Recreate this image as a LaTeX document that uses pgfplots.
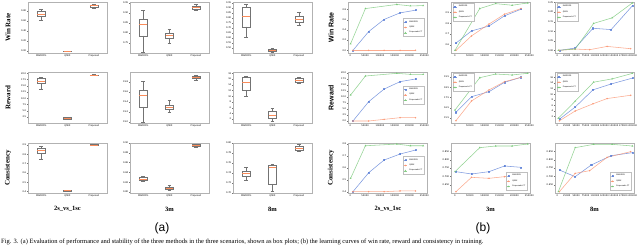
\documentclass[border=0pt]{standalone}
\usepackage{fontspec}
\setmainfont{Liberation Serif}
\newfontfamily\dv{DejaVu Sans}
\newfontfamily\ls{Liberation Sans}
\usepackage{pgfplots}
\pgfplotsset{compat=1.18}
\usepgfplotslibrary{statistics}
\definecolor{cblue}{RGB}{95,130,215}
\definecolor{corange}{RGB}{250,150,115}
\definecolor{cgreen}{RGB}{120,200,120}
\definecolor{mplorange}{RGB}{250,140,90}
\newcommand\tk{\dv\fontsize{2.3}{2.7}\selectfont}
\newcommand\lgf{\dv\fontsize{1.9}{2.0}\selectfont}
\newcommand\bx[6]{\addplot[boxplot prepared={draw position=#1, lower whisker=#2, lower quartile=#3, median=#4, upper quartile=#5, upper whisker=#6}, draw=black!55, line width=0.25pt] coordinates {};}
\pgfplotsset{
 cm/.style={scale only axis, anchor=north west, width=79pt, height=51pt,
  axis line style={draw=black!30, line width=0.35pt},
  tick style={draw=black!55, line width=0.25pt}, tick align=outside, major tick length=1pt,
  xtick pos=bottom, ytick pos=left, ticklabel style={font=\tk, inner sep=0.6pt},
  /pgf/number format/assume math mode=true, scaled ticks=false},
 yp/.style={yticklabel style={/pgf/number format/.cd, fixed, fixed zerofill, precision=#1}},
 aa/.style={cm, xmin=0.5, xmax=3.5, xtick={1,2,3}, xticklabels={MADDPG,QMIX,Proposed},
  boxplot/draw direction=y,
  boxplot/box extend=0.3, boxplot/whisker extend=0.15,
  boxplot/every median/.style={draw=mplorange, line width=0.3pt}},
 bb/.style={cm, xticklabel style={/pgf/number format/.cd, fixed, 1000 sep={}},
  legend style={font=\lgf, draw=black!25, line width=0.2pt, inner sep=0.3pt, row sep=-1.6pt, fill=white, cells={anchor=west}},
  legend image code/.code={\draw[mark repeat=2,mark phase=2,##1] plot coordinates {(0pt,0pt) (1.7pt,0pt) (3.4pt,0pt)};}},
 b1/.style={bb, xmin=-7778, xmax=258889, xtick={0,50000,...,250000}},
 b2/.style={bb, xmin=-13333, xmax=252222, xtick={0,50000,...,250000}},
 b3/.style={bb, xmin=-6250, xmax=203571, xtick={0,25000,...,200000}},
 blu/.style={color=cblue, line width=0.55pt, mark=square*, mark size=0.55pt, opacity=0.8},
 org/.style={color=corange, line width=0.55pt, mark=*, mark size=0.5pt, opacity=0.8},
 grn/.style={color=cgreen, line width=0.55pt, mark=triangle*, mark size=0.6pt, opacity=0.8},
}
\begin{document}
\begin{tikzpicture}
\useasboundingbox (0,0) rectangle (640pt,-245pt);
% ================= (a) box plots =================
\begin{axis}[aa, at={(28pt,-2pt)}, ymin=-0.04, ymax=0.98, ytick={0,0.2,0.4,0.6,0.8}, yp=2]
\bx{1}{0.62}{0.70}{0.74}{0.80}{0.84}
\bx{2}{-0.002}{-0.001}{0.0}{0.001}{0.002}
\bx{3}{0.867}{0.887}{0.907}{0.927}{0.94}
\end{axis}
\begin{axis}[aa, at={(130pt,-2pt)}, ymin=0.70, ymax=0.955, ytick={0.75,0.80,0.85,0.90,0.95}, yp=2]
\bx{1}{0.7065}{0.7865}{0.8435}{0.8685}{0.915}
\bx{2}{0.7485}{0.7735}{0.7915}{0.8015}{0.8185}
\bx{3}{0.915}{0.9215}{0.93}{0.9365}{0.945}
\end{axis}
\begin{axis}[aa, at={(233pt,-2pt)}, ymin=0.45, ymax=0.96, ytick={0.5,0.55,...,0.95}, yp=2]
\bx{1}{0.613}{0.713}{0.82}{0.907}{0.94}
\bx{2}{0.463}{0.473}{0.483}{0.49}{0.503}
\bx{3}{0.73}{0.763}{0.787}{0.823}{0.863}
\end{axis}
% row 2
\begin{axis}[aa, at={(28pt,-72pt)}, ymin=0.1, ymax=20.5, ytick={2.5,5,...,20}, yp=1]
\bx{1}{13.7}{15.98}{16.9}{17.98}{18.62}
\bx{2}{1.58}{1.7}{1.98}{2.38}{2.5}
\bx{3}{19.1}{19.18}{19.3}{19.42}{19.5}
\end{axis}
\begin{axis}[aa, at={(130pt,-72pt)}, ymin=18.98, ymax=20.0, ytick={19.0,19.2,19.4,19.6,19.8}, yp=1]
\bx{1}{19.006}{19.306}{19.54}{19.64}{19.826}
\bx{2}{19.194}{19.254}{19.294}{19.34}{19.44}
\bx{3}{19.84}{19.874}{19.894}{19.92}{19.94}
\end{axis}
\begin{axis}[aa, at={(233pt,-72pt)}, ymin=0.65, ymax=18.5, ytick={2,4,...,18}, yp=0]
\bx{1}{10.2}{12.2}{15.1}{16.86}{17.1}
\bx{2}{1.35}{2.3}{3.45}{4.85}{5.8}
\bx{3}{14.55}{15.1}{15.7}{16.3}{16.86}
\end{axis}
% row 3
\begin{axis}[aa, at={(28pt,-143pt)}, height=50pt, ymin=0.385, ymax=0.92, ytick={0.4,0.5,...,0.9}, yp=1]
\bx{1}{0.745}{0.808}{0.839}{0.8675}{0.884}
\bx{2}{0.406}{0.409}{0.412}{0.415}{0.418}
\bx{3}{0.897}{0.899}{0.902}{0.905}{0.907}
\end{axis}
\begin{axis}[aa, at={(130pt,-143pt)}, height=50pt, ymin=0.798, ymax=0.90, ytick={0.80,0.82,...,0.90}, yp=2]
\bx{1}{0.822}{0.824}{0.8266}{0.8294}{0.8314}
\bx{2}{0.8034}{0.8054}{0.808}{0.8106}{0.8134}
\bx{3}{0.892}{0.8932}{0.8952}{0.8972}{0.8986}
\end{axis}
\begin{axis}[aa, at={(233pt,-143pt)}, height=50pt, ymin=0.70, ymax=0.80, ytick={0.70,0.72,...,0.80}, yp=2]
\bx{1}{0.7252}{0.7332}{0.74}{0.7432}{0.752}
\bx{2}{0.7032}{0.718}{0.752}{0.7552}{0.758}
\bx{3}{0.7832}{0.7866}{0.7906}{0.7932}{0.798}
\end{axis}
% ================= (b) learning curves =================
\begin{axis}[b1, at={(348pt,-2pt)}, ymin=-0.052, ymax=0.948, ytick={0,0.2,...,0.8}, yp=1, legend style={at={(0.97,0.5)}, anchor=east}]
\addplot[blu] coordinates {(8900,0) (62000,0.368) (114000,0.606) (168000,0.735) (220000,0.787)};
\addplot[org] coordinates {(8900,0) (62000,0) (114000,0) (168000,0) (220000,0)};
\addplot[grn] coordinates {(1000,0.129) (51000,0.819) (157000,0.90) (203000,0.871) (246000,0.877)};
\legend{MADDPG,QMIX,Proposed+CT}
\end{axis}
\begin{axis}[b2, at={(451pt,-2pt)}, ymin=0.526, ymax=0.995, ytick={0.6,0.7,0.8,0.9}, yp=1, legend style={at={(0.02,0.98)}, anchor=north west}]
\addplot[blu] coordinates {(3333,0.617) (55556,0.729) (114444,0.774) (166667,0.868) (222222,0.929)};
\addplot[org] coordinates {(3333,0.55) (55556,0.683) (114444,0.792) (166667,0.883) (222222,0.935)};
\addplot[grn] coordinates {(0,0.55) (83333,0.935) (136667,0.980) (192222,0.965) (244444,0.986)};
\legend{MADDPG,QMIX,Proposed+CT}
\end{axis}
\begin{axis}[b3, at={(555pt,-2pt)}, ymin=-0.0138, ymax=0.253, ytick={0,0.05,...,0.25}, yp=2, legend style={at={(0.02,0.98)}, anchor=north west}]
\addplot[blu] coordinates {(5357,0) (47321,0.012) (94643,0.1155) (142857,0.1086) (199107,0.2328)};
\addplot[org] coordinates {(5357,0) (47321,0.0069) (85714,0.0034) (132143,0.0207) (194643,0.0086)};
\addplot[grn] coordinates {(2679,0) (47321,0.0069) (96429,0.141) (145536,0.170) (199107,0.248)};
\legend{MADDPG,QMIX,Proposed+CT}
\end{axis}
% row 2
\begin{axis}[b1, at={(348pt,-72pt)}, ymin=-0.83, ymax=20.42, ytick={0,2.5,...,20}, yp=1, legend style={at={(0.97,0.55)}, anchor=east}]
\addplot[blu] coordinates {(8900,0) (62000,8.06) (114000,13.3) (168000,16.4) (220000,17.5)};
\addplot[org] coordinates {(8900,0) (62000,0) (114000,0.69) (168000,1.39) (220000,1.39)};
\addplot[grn] coordinates {(1000,10.83) (51000,18.75) (157000,19.86) (203000,19.44) (246000,19.44)};
\legend{MADDPG,QMIX,Proposed+CT}
\end{axis}
\begin{axis}[b2, at={(451pt,-72pt)}, ymin=15.0, ymax=20.0, ytick={15.5,16.5,17.5,18.5,19.5}, yp=1, legend style={at={(0.02,0.98)}, anchor=north west}]
\addplot[blu] coordinates {(3333,16.05) (55556,17.58) (114444,18.07) (166667,18.99) (222222,19.48)};
\addplot[org] coordinates {(3333,15.23) (55556,17.16) (114444,18.24) (166667,19.05) (222222,19.48)};
\addplot[grn] coordinates {(0,16.27) (83333,19.44) (136667,19.80) (192222,19.71) (244444,19.87)};
\legend{MADDPG,QMIX,Proposed+CT}
\end{axis}
\begin{axis}[b3, at={(555pt,-72pt)}, ymin=-0.3, ymax=18, ytick={2,4,...,16}, yp=0, legend style={at={(0.02,0.98)}, anchor=north west}]
\addplot[blu] coordinates {(5357,1.06) (47321,5.41) (94643,11.6) (142857,13.7) (199107,15.8)};
\addplot[org] coordinates {(5357,0.47) (47321,4.0) (94643,6.59) (132143,8.47) (194643,9.65)};
\addplot[grn] coordinates {(2679,1.41) (47321,7.53) (96429,14.35) (145536,15.53) (199107,17.5)};
\legend{MADDPG,QMIX,Proposed+CT}
\end{axis}
% row 3
\begin{axis}[b1, at={(348pt,-143pt)}, height=50pt, ymin=0.389, ymax=0.806, ytick={0.4,0.5,...,0.8}, yp=1, legend style={at={(0.97,0.55)}, anchor=east}]
\addplot[blu] coordinates {(8900,0.4) (62000,0.558) (114000,0.664) (168000,0.714) (220000,0.747)};
\addplot[org] coordinates {(8900,0.4) (62000,0.4) (114000,0.4) (168000,0.406) (220000,0.406)};
\addplot[grn] coordinates {(1000,0.511) (51000,0.783) (157000,0.797) (203000,0.783) (246000,0.783)};
\legend{MADDPG,QMIX,Proposed+CT}
\end{axis}
\begin{axis}[b2, at={(451pt,-143pt)}, height=50pt, ymin=0.60, ymax=0.90, ytick={0.65,0.70,...,0.85}, yp=3, legend style={at={(0.97,0.05)}, anchor=south east}]
\addplot[blu] coordinates {(3333,0.728) (55556,0.714) (114444,0.728) (166667,0.762) (222222,0.754)};
\addplot[org] coordinates {(3333,0.608) (55556,0.694) (114444,0.688) (166667,0.698) (222222,0.714)};
\addplot[grn] coordinates {(0,0.728) (83333,0.872) (136667,0.882) (192222,0.882) (244444,0.894)};
\legend{MADDPG,QMIX,Proposed+CT}
\end{axis}
\begin{axis}[b3, at={(555pt,-143pt)}, height=50pt, ymin=0.60, ymax=0.90, ytick={0.65,0.70,...,0.85}, yp=3, legend style={at={(0.97,0.05)}, anchor=south east}]
\addplot[blu] coordinates {(5357,0.738) (47321,0.698) (90000,0.768) (142857,0.824) (199107,0.842)};
\addplot[org] coordinates {(5357,0.608) (47321,0.718) (85714,0.734) (132143,0.814) (194643,0.848)};
\addplot[grn] coordinates {(2679,0.608) (47321,0.872) (96429,0.892) (145536,0.892) (199107,0.882)};
\legend{MADDPG,QMIX,Proposed+CT}
\end{axis}
% ================= labels =================
\begin{scope}[every node/.style={font=\bfseries\fontsize{7}{8}\selectfont, rotate=90}]
\node at (8pt,-27.5pt) {Win Rate};
\node at (8pt,-97.5pt) {Reward};
\node at (8pt,-168pt) {Consistency};
\node[font=\ls\bfseries\fontsize{7}{8}\selectfont] at (331pt,-27.5pt) {Win Rate};
\node[font=\ls\bfseries\fontsize{7}{8}\selectfont] at (331pt,-97.5pt) {Reward};
\node at (331pt,-168pt) {Consistency};
\end{scope}
\begin{scope}[every node/.style={font=\bfseries\fontsize{6.5}{8}\selectfont}]
\node at (67.5pt,-209pt) {2s\_vs\_1sc};
\node at (169.5pt,-209pt) {3m};
\node at (272.5pt,-209pt) {8m};
\node at (388pt,-209pt) {2s\_vs\_1sc};
\node at (490.5pt,-209pt) {3m};
\node at (594.5pt,-209pt) {8m};
\end{scope}
\node[font=\ls\fontsize{12}{14}\selectfont] at (162pt,-228pt) {(a)};
\node[font=\ls\fontsize{12}{14}\selectfont] at (483pt,-228pt) {(b)};
\node[anchor=base west, inner sep=0pt, font=\fontsize{6.5}{8}\selectfont] at (1pt,-243.2pt) {Fig. 3. (a) Evaluation of performance and stability of the three methods in the three scenarios, shown as box plots; (b) the learning curves of win rate, reward and consistency in training.};
\end{tikzpicture}
\end{document}
